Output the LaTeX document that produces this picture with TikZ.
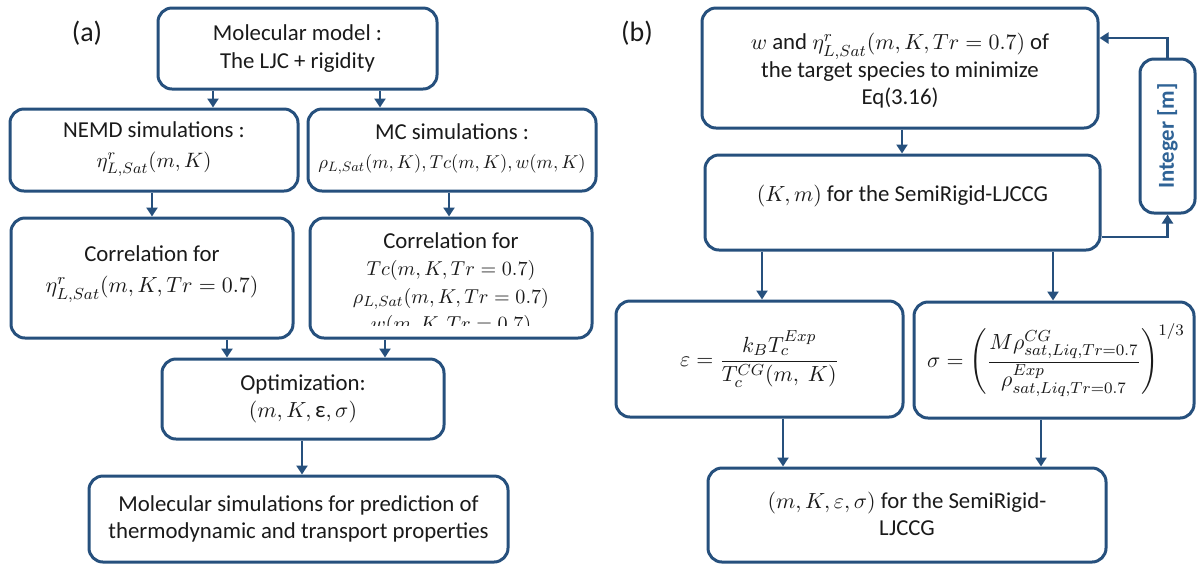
\documentclass[tikz,border=0pt]{standalone}
\usepackage{fontspec}
\usepackage{amsmath}
\usepackage{graphicx}
\setmainfont{Carlito}
\usetikzlibrary{arrows.meta,calc}
\definecolor{boxc}{HTML}{26507D}
\definecolor{intc}{HTML}{2F6396}
\definecolor{txtc}{HTML}{1A1A1A}
\newcommand{\msc}[2]{\scalebox{#1}{$#2$}}
\tikzset{
  box/.style={draw=boxc, line width=1.5pt, rounded corners=7pt, inner sep=0pt, fill=white},
  sz/.style 2 args={minimum width=#1*0.5pt, minimum height=#2*0.5pt},
  arr/.style={draw=boxc, line width=1.3pt, -{Triangle[width=5.5pt,length=4.5pt]}},
  txt/.style={align=center, text=txtc, font=\fontsize{11.4}{13.8}\selectfont, inner sep=0pt},
  lbl/.style={text=txtc, font=\fontsize{14}{16}\selectfont, inner sep=0pt},
}
\begin{document}
\begin{tikzpicture}[x=0.5pt,y=-0.5pt]
\useasboundingbox (0,0) rectangle (1197,564);
% ---------- (a) ----------
\node[lbl] (la) at (87,33) {(a)};
\node[box,sz={279}{81}] (a1) at (297.5,48.5) {};
\node[txt] (a1t) at (a1) {Molecular model :\\ The LJC + rigidity};
\node[box,sz={288}{82}] (a2) at (154,150) {};
\node[txt] (a2t) at (154,149) {NEMD simulations :\\[1pt] \msc{0.95}{\eta^r_{L,Sat}(m,K)}};
\node[box,sz={288}{82}] (a3) at (452,150) {};
\node[txt] (a3t) at (452,149) {MC simulations :\\[1pt] \msc{0.85}{\rho_{L,Sat}(m,K), Tc(m,K), w(m,K)}};
\node[box,sz={282}{120}] (a4) at (152,278) {};
\node[txt] (a4t) at (152,274) {Correlation for\\[2pt] $\eta^r_{L,Sat}(m,K,Tr=0.7)$};
\node[box,sz={282}{120}] (a5) at (451,278) {};
\begin{scope}
  \clip (300,210) rectangle (600,325);
  \node[txt] (a5t) at (451,284) {Correlation for\\ \msc{0.92}{Tc(m,K,Tr=0.7)}\\ \msc{0.92}{\rho_{L,Sat}(m,K,Tr=0.7)}\\ \msc{0.92}{w(m,K,Tr=0.7)}};
\end{scope}
\node[box,sz={282}{80}] (a6) at (303,399) {};
\node[txt] (a6t) at (a6) {Optimization:\\ $(m,K,\mbox{ε},\sigma)$};
\node[box,sz={419}{86}] (a7) at (298.5,519) {};
\node[txt] (a7t) at (a7) {Molecular simulations for prediction of\\ thermodynamic and transport properties};
\draw[arr] (a1.south -| 213,0) -- (a2.north -| 213,0);
\draw[arr] (a1.south -| 380,0) -- (a3.north -| 380,0);
\draw[arr] (a2.south -| 152,0) -- (a4.north -| 152,0);
\draw[arr] (a3.south -| 449,0) -- (a5.north -| 449,0);
\draw[arr] (a4.south -| 227,0) -- (a6.north -| 227,0);
\draw[arr] (a5.south -| 385,0) -- (a6.north -| 385,0);
\draw[arr] (a6.south -| 302,0) -- (a7.north -| 302,0);
% ---------- (b) ----------
\node[lbl] (lb) at (637,33) {(b)};
\node[box,sz={396}{120}] (b1) at (900,68) {};
\begin{scope}
  \clip (700,10) rectangle (1100,115);
  \node[txt] (b1t) at (900,71) {$w$ and $\eta^r_{L,Sat}(m,K,Tr=0.7)$ of\\ the target species to minimize\\ Eq(3.16)};
\end{scope}
\node[box,sz={395}{95}] (b2) at (902.5,202.5) {};
\node[txt] (b2t) at (902.5,196) {$(K,m)$ for the SemiRigid-LJCCG};
\node[box,sz={55}{154}] (b3) at (1167.5,136) {};
\node[txt,rotate=90,text=intc,font=\fontsize{11.4}{13.8}\selectfont\bfseries] (b3t) at (b3) {Integer [m]};
\node[box,sz={287}{116}] (b4) at (759.5,359) {};
\node[txt] (b4t) at (b4) {$\varepsilon = \dfrac{k_B T_c^{Exp}}{T_c^{CG}(m,\ K)}$};
\node[box,sz={280}{116}] (b5) at (1054,360) {};
\node[txt] (b5t) at (1056,360) {$\sigma = \left(\dfrac{M\rho^{CG}_{sat,Liq,Tr=0.7}}{\rho^{Exp}_{sat,Liq,Tr=0.7}}\right)^{1/3}$};
\node[box,sz={398}{94}] (b6) at (907,515) {};
\node[txt] (b6t) at (907,514) {$(m,K,\varepsilon,\sigma)$ for the SemiRigid-\\ LJCCG};
\draw[arr] (b1.south -| 902,0) -- (b2.north -| 902,0);
\draw[arr] (b2.south -| 762,0) -- (b4.north -| 762,0);
\draw[arr] (b2.south -| 1053,0) -- (b5.north -| 1053,0);
\draw[arr] (b4.south -| 783,0) -- (b6.north -| 783,0);
\draw[arr] (b5.south -| 1041,0) -- (b6.north -| 1041,0);
\draw[arr] (b2.east |- 0,237) -| (b3.south);
\draw[arr] (b3.north) |- (b1.east |- 0,38);
\end{tikzpicture}
\end{document}
